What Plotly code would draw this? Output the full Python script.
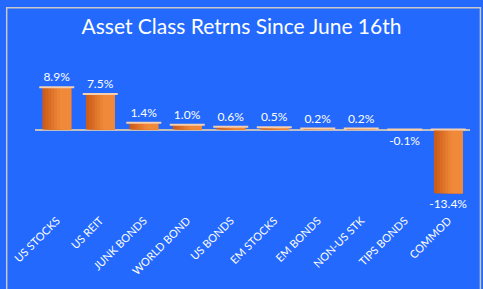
import plotly.graph_objects as go

categories = ["US STOCKS", "US REIT", "JUNK BONDS", "WORLD BOND", "US BONDS",
              "EM STOCKS", "EM BONDS", "NON-US STK", "TIPS BONDS", "COMMOD"]
returns = [8.9, 7.5, 1.4, 1.0, 0.6, 0.5, 0.2, 0.2, -0.1, -13.4]
labels = ["8.9%", "7.5%", "1.4%", "1.0%", "0.6%", "0.5%", "0.2%", "0.2%", "-0.1%", "-13.4%"]

BG = "#2369FE"
FONT = "Lato"
dark = (0xCC, 0x5C, 0x1A)
light = (0xF0, 0x89, 0x3A)
N = 10
BW = 0.66

fig = go.Figure()
for i in range(N):
    t = min(1.0, (i / (N - 1)) * 1.6)
    c = tuple(int(dark[k] + (light[k] - dark[k]) * t) for k in range(3))
    fig.add_trace(go.Bar(
        x=categories, y=returns,
        width=BW - i * BW / N, offset=-BW / 2 + i * BW / N,
        marker=dict(color="rgb(%d,%d,%d)" % c, line=dict(width=0)),
        hoverinfo="skip", showlegend=False,
    ))
fig.add_trace(go.Bar(
    x=categories, y=returns, width=BW, offset=-BW / 2,
    marker=dict(color="rgba(0,0,0,0)", line=dict(width=0)),
    text=labels, textposition="outside", cliponaxis=False, constraintext="none",
    textfont=dict(color="white", size=12, family=FONT),
    showlegend=False,
))
# light highlight along the top edge of each bar
fig.add_trace(go.Scatter(
    x=categories, y=[max(v, 0) for v in returns], mode="markers",
    marker=dict(symbol="line-ew", size=25, line=dict(color="#F6CFAE", width=2)),
    hoverinfo="skip", showlegend=False, cliponaxis=False,
))

fig.update_layout(
    width=483, height=289,
    margin=dict(l=32, r=13, t=82, b=82),
    paper_bgcolor=BG, plot_bgcolor=BG,
    barmode="overlay",
    title=dict(text="Asset Class Retrns Since June 16th", x=0.5, xanchor="center",
               y=1 - 27 / 289, yanchor="middle", yref="container",
               font=dict(color="white", size=21, family=FONT)),
    xaxis=dict(range=[-0.5, len(categories) - 0.5], showgrid=False, showline=False,
               tickangle=-45, ticks="outside", ticklen=13, tickcolor="rgba(0,0,0,0)",
               tickfont=dict(color="white", size=11, family=FONT)),
    yaxis=dict(range=[-14, 10], showgrid=False, showticklabels=False,
               zeroline=True, zerolinecolor="#BFBFBF", zerolinewidth=1.5),
)
# chart border (left, top, right)
fig.add_shape(type="rect", xref="paper", yref="paper",
              x0=(3.5 - 32) / 438, x1=(480.5 - 32) / 438,
              y0=-3.0, y1=(207 - 0.5) / 125,
              line=dict(color="#C8C8C8", width=1.5), fillcolor="rgba(0,0,0,0)")
fig.write_html("out.html")
